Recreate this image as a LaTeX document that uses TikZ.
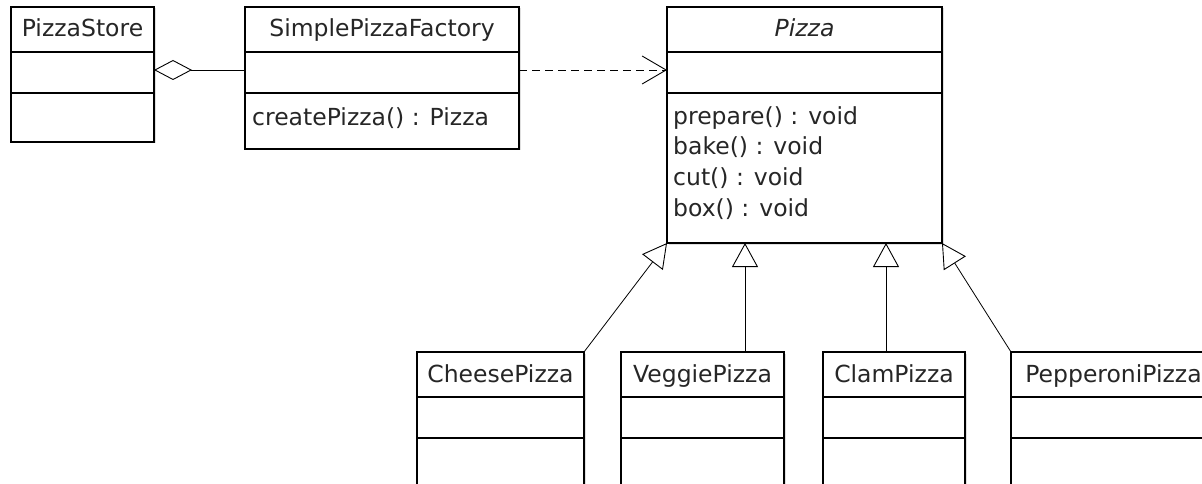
\documentclass[tikz,border=0pt]{standalone}
\usepackage{fontspec}
\setmainfont{DejaVu Sans}
\usetikzlibrary{arrows.meta,shadows}

% one UML class box: name, x, y (top left), width, height, title
\newcommand\umlclass[6]{%
  \node[classbox, minimum width=#4pt, minimum height=#5pt] (#1) at (#2,#3) {};
  \draw[divider] ([yshift=-45pt]#1.north west) -- ([yshift=-45pt]#1.north east);
  \draw[divider] ([yshift=-86pt]#1.north west) -- ([yshift=-86pt]#1.north east);
  \node[titletext] (#1-title) at ([yshift=-30pt]#1.north) {#6};
}

\begin{document}
\begin{tikzpicture}[x=1pt, y=-1pt,
  every node/.style={font=\fontsize{23.5}{30}\selectfont, text=black!85},
  classbox/.style={draw=black, line width=1.4pt, fill=white, inner sep=0pt, outer sep=0pt,
    anchor=north west, drop shadow={shadow xshift=1.5pt, shadow yshift=-1.5pt, opacity=.25}},
  divider/.style={draw=black, line width=1.4pt},
  titletext/.style={anchor=base, inner sep=0pt},
  optext/.style={anchor=base west, inner sep=0pt},
  aggregation/.style={draw=black, line width=0.9pt, {Diamond[open, length=38pt, width=20pt, line width=0.9pt]}-},
  dependency/.style={draw=black, line width=0.9pt, dash pattern=on 8pt off 5pt,
    -{Straight Barb[length=24pt, width=28pt, line width=0.9pt]}},
  generalization/.style={draw=black, line width=0.8pt, -{Triangle[open, length=24pt, width=26pt, line width=0.9pt]}}
]
\path[use as bounding box] (0,0) rectangle (1202,484);
\clip (0,0) rectangle (1202,484);
\fill[white] (0,0) rectangle (1202,484);

\umlclass{ps}{11}{7}{143}{135}{PizzaStore}
\umlclass{spf}{245}{7}{274}{142}{SimplePizzaFactory}
\umlclass{pizza}{667}{7}{275}{236}{\itshape Pizza}
\umlclass{cheese}{417}{352}{167}{160}{CheesePizza}
\umlclass{veggie}{621}{352}{163}{160}{VeggiePizza}
\umlclass{clam}{823}{352}{142}{160}{ClamPizza}
\umlclass{pep}{1011}{352}{205}{160}{PepperoniPizza}

% operations
\node[optext] (spf-op1) at ([xshift=7pt, yshift=-118.5pt]spf.north west) {createPizza() : Pizza};
\node[optext] (pizza-op1) at ([xshift=6pt, yshift=-117.5pt]pizza.north west) {prepare() : void};
\node[optext] (pizza-op2) at ([xshift=6pt, yshift=-148pt]pizza.north west) {bake() : void};
\node[optext] (pizza-op3) at ([xshift=6pt, yshift=-178.5pt]pizza.north west) {cut() : void};
\node[optext] (pizza-op4) at ([xshift=6pt, yshift=-209pt]pizza.north west) {box() : void};

% relations
\draw[aggregation] ([yshift=-63pt]ps.north east) -- ([yshift=-63pt]spf.north west);
\draw[dependency] ([yshift=-63pt]spf.north east) -- ([yshift=-63pt]pizza.north west);

\coordinate (vg) at ([xshift=124pt]veggie.north west);
\coordinate (cl) at ([xshift=63pt]clam.north west);
\draw[generalization] (cheese.north east) -- (pizza.south west);
\draw[generalization] (vg) -- (vg |- pizza.south);
\draw[generalization] (cl) -- (cl |- pizza.south);
\draw[generalization] (pep.north west) -- (pizza.south east);
\end{tikzpicture}
\end{document}
